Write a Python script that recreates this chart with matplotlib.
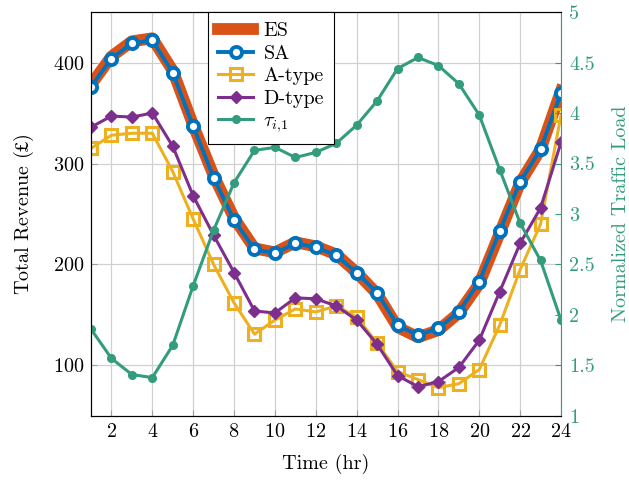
import matplotlib
matplotlib.use('Agg')
import matplotlib.pyplot as plt
import numpy as np

# hours of the day
hours = np.arange(1, 25)

# total revenue (GBP)
es = [378, 406, 421, 424, 392, 338, 288, 246, 216, 212, 222, 218, 210, 192, 171, 138, 128, 135, 152, 181, 231, 281, 314, 372]
sa = [376, 404, 419, 422, 390, 337, 286, 244, 215, 211, 221, 217, 209, 192, 172, 140, 130, 137, 153, 183, 233, 282, 314, 370]
a_type = [315, 328, 330, 330, 292, 245, 200, 162, 131, 145, 156, 153, 159, 148, 122, 94, 86, 78, 82, 96, 140, 195, 240, 348]
d_type = [336, 347, 346, 350, 317, 268, 229, 192, 154, 152, 167, 166, 159, 145, 121, 90, 79, 84, 98, 125, 173, 221, 256, 321]

# normalized traffic load
tau = [1.86, 1.57, 1.41, 1.38, 1.70, 2.29, 2.84, 3.31, 3.63, 3.66, 3.56, 3.61, 3.70, 3.88, 4.12, 4.44, 4.55, 4.47, 4.29, 3.98, 3.44, 2.91, 2.54, 1.95]

c_es = '#D95319'
c_sa = '#0072BD'
c_a = '#EDB120'
c_d = '#7E2F8E'
c_tau = '#329C7D'

plt.rcParams['font.family'] = ['cmr10', 'DejaVu Serif']
plt.rcParams['mathtext.fontset'] = 'cm'
plt.rcParams['axes.unicode_minus'] = False
plt.rcParams['axes.formatter.use_mathtext'] = True

fs = 14.5

fig = plt.figure(figsize=(6.29, 4.82), dpi=100)
ax = fig.add_axes([0.1447, 0.137, 0.7472, 0.838])
ax2 = ax.twinx()

l_es, = ax.plot(hours, es, color=c_es, lw=8.5, label='ES', solid_joinstyle='round')
l_sa, = ax.plot(hours, sa, color=c_sa, lw=2.8, marker='o', ms=8, mfc='white',
                mec=c_sa, mew=2.8, label='SA')
l_a, = ax.plot(hours, a_type, color=c_a, lw=2.2, marker='s', ms=8, mfc='none',
               mec=c_a, mew=2.2, label='A-type')
l_d, = ax.plot(hours, d_type, color=c_d, lw=2.2, marker='D', ms=6.5, mfc=c_d,
               mec=c_d, label='D-type')
l_t, = ax2.plot(hours, tau, color=c_tau, lw=2.2, marker='o', ms=5.5, mfc=c_tau,
                mec=c_tau, label=r'$\tau_{i,\!1}$')

ax.set_xlim(1, 24)
ax.set_ylim(50, 450)
ax2.set_ylim(1, 5)
ax.set_xticks(np.arange(2, 25, 2))
ax.set_yticks([100, 200, 300, 400])
ax2.set_yticks(np.arange(1, 5.01, 0.5))
ax2.set_yticklabels(['1', '1.5', '2', '2.5', '3', '3.5', '4', '4.5', '5'])

ax.grid(True, color='#d0d0d0', lw=0.9)
ax.set_axisbelow(True)
ax.tick_params(direction='in', labelsize=fs, length=4, color='#a0a0a0', pad=5)
ax2.tick_params(direction='in', labelsize=fs, length=4, colors=c_tau, pad=6)
for s in ['left', 'bottom', 'top']:
    ax.spines[s].set_color('black')
ax2.spines['right'].set_color(c_tau)
ax.spines['right'].set_visible(False)

ax.set_xlabel('Time (hr)', fontsize=fs)
ylab = ax.set_ylabel('Total Revenue ($£$)', fontsize=fs)
ylab.set_math_fontfamily('stix')
ax2.set_ylabel('Normalized Traffic Load', fontsize=fs, color=c_tau)
ax.xaxis.set_label_coords(0.5, -0.095)
ax.yaxis.set_label_coords(-0.118, 0.5)
ax2.yaxis.set_label_coords(1.109, 0.5)

leg = ax2.legend(handles=[l_es, l_sa, l_a, l_d, l_t], loc='upper left',
                 bbox_to_anchor=(0.249, 1.0), fontsize=fs, fancybox=False,
                 framealpha=1, edgecolor='black', handlelength=1.75,
                 borderaxespad=0, labelspacing=0.22, borderpad=0.5,
                 handletextpad=0.5)
leg.get_frame().set_linewidth(0.8)

fig.savefig('out.png', dpi=100)
